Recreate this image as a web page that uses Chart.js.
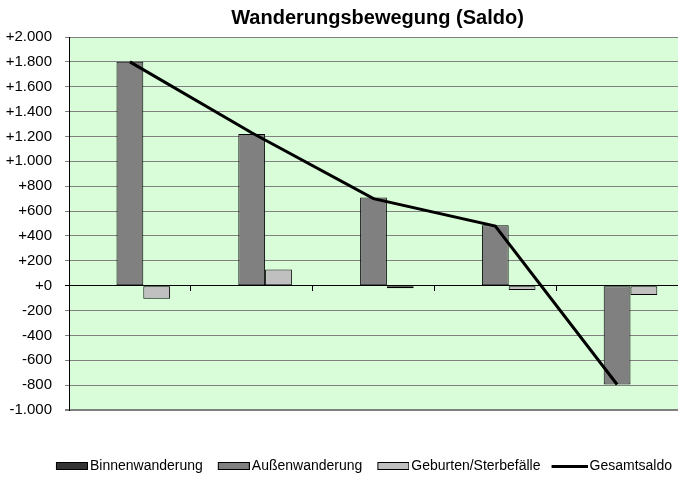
<!DOCTYPE html>
<html>
<head>
<meta charset="utf-8">
<script src="https://cdn.jsdelivr.net/npm/chart.js@4.4.1/dist/chart.umd.min.js"></script>
<style>
  html, body { margin: 0; padding: 0; background: #fff; }
</style>
</head>
<body>
<canvas id="chart" width="678" height="483"></canvas>
<script>
// Kategorien haben keine Beschriftung im Original
const categories = ['', '', '', '', ''];
const binnenwanderung = [0, 0, 0, 0, 0];
const aussenwanderung = [1800, 1220, 710, 485, -795];
const geburtenSterbefaelle = [-105, 130, -20, -35, -75];
const gesamtsaldo = [1800, 1230, 700, 480, -795];
const yMin = -1000, yMax = 2000, yStep = 200;

const FONT = 'Liberation Sans, Arial, sans-serif';

function fmt(v) {
  const s = String(Math.abs(v)).replace(/\B(?=(\d{3})+(?!\d))/g, '.');
  return (v < 0 ? '-' : '+') + s;
}

// Legendensymbole als kleine Bilder, rechtsbündig (dicht am Text)
function swatch(fill, h, line) {
  const W = 46, w = line ? 36 : 32;
  const c = document.createElement('canvas');
  c.width = W; c.height = h;
  const g = c.getContext('2d');
  if (line) {
    g.fillStyle = fill;
    g.fillRect(W - w, 0, w, h);
  } else {
    g.fillStyle = '#000';
    g.fillRect(W - w, 0, w, h);
    g.fillStyle = fill;
    g.fillRect(W - w + 1, 1, w - 2, h - 2);
  }
  return c;
}

const plotBg = {
  id: 'plotBg',
  beforeDraw(chart) {
    const { ctx, chartArea: a } = chart;
    ctx.save();
    ctx.fillStyle = '#d9fdd9';
    ctx.fillRect(a.left, a.top, a.right - a.left, a.bottom - a.top);
    ctx.restore();
  },
  afterDraw(chart) {
    const { ctx, chartArea: a } = chart;
    ctx.save();
    ctx.fillStyle = '#000';
    ctx.font = 'bold 20px ' + FONT;
    ctx.textAlign = 'center';
    ctx.textBaseline = 'middle';
    ctx.fillText('Wanderungsbewegung (Saldo)', (a.left + a.right) / 2 + 4, 18);
    ctx.restore();
  }
};

new Chart(document.getElementById('chart'), {
  type: 'bar',
  data: {
    labels: categories,
    datasets: [{
      label: 'Binnenwanderung',
      data: binnenwanderung,
      backgroundColor: '#333333',
      borderColor: '#000',
      borderWidth: 1,
      borderSkipped: false,
      pointStyle: swatch('#333333', 8),
      order: 2
    }, {
      label: 'Außenwanderung',
      data: aussenwanderung,
      backgroundColor: '#808080',
      borderColor: '#000',
      borderWidth: 1,
      borderSkipped: false,
      pointStyle: swatch('#808080', 8),
      order: 2
    }, {
      label: 'Geburten/Sterbefälle',
      data: geburtenSterbefaelle,
      backgroundColor: '#c0c0c0',
      borderColor: '#000',
      borderWidth: 1,
      borderSkipped: false,
      pointStyle: swatch('#c0c0c0', 8),
      order: 2
    }, {
      type: 'line',
      label: 'Gesamtsaldo',
      data: gesamtsaldo,
      borderColor: '#000',
      backgroundColor: '#000',
      borderWidth: 3,
      pointRadius: 0,
      tension: 0,
      pointStyle: swatch('#000', 3, true),
      order: 1
    }]
  },
  plugins: [plotBg],
  options: {
    responsive: false,
    animation: false,
    devicePixelRatio: 1,
    layout: { padding: { top: 37, left: 5, right: 0, bottom: 0 } },
    datasets: {
      bar: { categoryPercentage: 0.66, barPercentage: 1 }
    },
    scales: {
      x: {
        position: { y: 0 },
        ticks: { display: false },
        grid: { offset: true, drawOnChartArea: false, tickLength: 5, color: '#000' },
        border: { color: '#000', width: 1 }
      },
      x2: {
        position: 'bottom',
        display: true,
        ticks: { display: false },
        grid: { display: false },
        border: { display: false },
        afterFit(s) { s.height = 43; }
      },
      y: {
        min: yMin,
        max: yMax,
        afterFit(s) { s.width = 64; },
        ticks: {
          stepSize: yStep,
          color: '#000',
          padding: 13,
          font: { family: FONT, size: 15 },
          callback: v => fmt(v)
        },
        grid: {
          color: c => c.tick && c.tick.value === 0 ? '#000' : '#808080',
          lineWidth: c => c.tick && c.tick.value === yMin ? 2 : 1,
          tickLength: 4
        },
        border: { color: '#000', width: 1 }
      }
    },
    plugins: {
      title: { display: false },
      tooltip: { enabled: false },
      legend: {
        position: 'bottom',
        align: 'end',
        labels: {
          usePointStyle: true,
          pointStyleWidth: 36,
          boxHeight: 8,
          padding: 6,
          color: '#000',
          font: { family: FONT, size: 14 },
          sort: (a, b) => a.datasetIndex - b.datasetIndex
        }
      }
    }
  }
});
</script>
</body>
</html>
